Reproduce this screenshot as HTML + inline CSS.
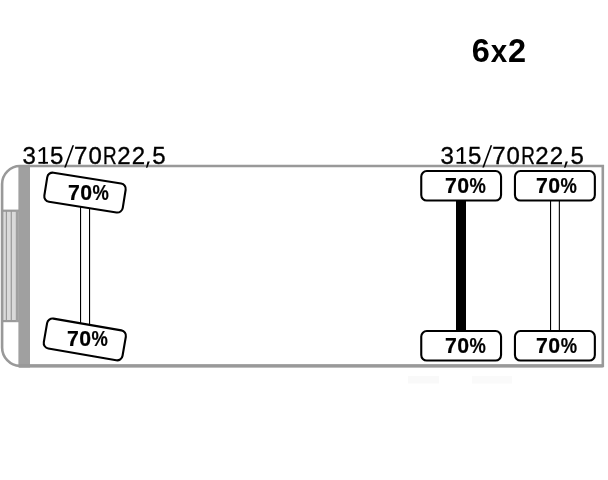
<!DOCTYPE html>
<html><head><meta charset="utf-8">
<style>
html,body{margin:0;padding:0;background:#fff;}
body{width:608px;height:480px;overflow:hidden;position:relative;}
svg{position:absolute;left:0;top:0;will-change:transform;}
text{font-family:"Liberation Sans",sans-serif;}
.lbl text{stroke:#000;stroke-width:0.35px;}
.p70 text{stroke:#000;stroke-width:0.2px;}
</style></head>
<body>
<svg width="608" height="480" viewBox="0 0 608 480">
  

  <!-- title -->
  <g font-size="32.5" font-weight="bold" fill="#000">
    <text x="471.7" y="61.5">6</text>
    <text transform="translate(491 61.6) scale(0.91 0.95)" x="-0.22">x</text>
    <text x="507.97" y="61.5">2</text>
  </g>

  <!-- front: grille + bar -->
  <rect x="3" y="210" width="14" height="112" fill="#dadada"/>
  <rect x="5.8" y="210" width="1.2" height="112" fill="#9a9a9a"/>
  <rect x="10.7" y="210" width="1.2" height="112" fill="#9a9a9a"/>
  <rect x="3" y="209.6" width="16" height="2.2" fill="#9a9a9a"/>
  <rect x="3" y="320" width="16" height="2.2" fill="#9a9a9a"/>
  <rect x="15.8" y="210" width="3" height="112" fill="#a0a0a0"/>
  <rect x="18.4" y="165" width="11.6" height="202.5" fill="#a0a0a0"/>

  <!-- body outline -->
  <path d="M20,166.05 H602.8 V365.9 H20 A18.5 18.5 0 0 1 2.1 347 V184 A18 18 0 0 1 20 166.05 Z" fill="none" stroke="#999" stroke-width="2.6"/>
  <line x1="19" y1="365.9" x2="602.8" y2="365.9" stroke="#999" stroke-width="3.3"/>

  <!-- tire size labels -->
  <g class="lbl" fill="#000">
      <text y="163.6" font-size="24" x="22.39">3</text>
      <rect x="42.9" y="147.2" width="2.3" height="16.4"/>
      <rect x="38.4" y="161.9" width="9.6" height="1.8"/>
      <path d="M38.3,150.4 L43.2,146.9 L44.2,148.4 L39.3,151.9 Z"/>
      <text y="163.6" font-size="24" x="49.94">5</text>
      <path d="M64.2,167.6 L65.9,167.6 L74.1,145.3 L72.4,145.3 Z"/>
      <text y="163.6" font-size="24" x="74.07 88.46">70</text>
      <text font-size="24" transform="translate(104.6 163.6) scale(0.786 1)" x="-1.97">R</text>
      <text y="163.6" font-size="24" x="117.19 131.69">22</text>
      <path d="M147.5,161.4 L149.8,161.4 L147.3,167.7 L146.0,167.7 Z"/>
      <text y="163.6" font-size="24" x="152.34">5</text>
    </g>
  <g class="lbl" fill="#000" transform="translate(418.1 0)">
      <text y="163.6" font-size="24" x="22.39">3</text>
      <rect x="42.9" y="147.2" width="2.3" height="16.4"/>
      <rect x="38.4" y="161.9" width="9.6" height="1.8"/>
      <path d="M38.3,150.4 L43.2,146.9 L44.2,148.4 L39.3,151.9 Z"/>
      <text y="163.6" font-size="24" x="49.94">5</text>
      <path d="M64.2,167.6 L65.9,167.6 L74.1,145.3 L72.4,145.3 Z"/>
      <text y="163.6" font-size="24" x="74.07 88.46">70</text>
      <text font-size="24" transform="translate(104.6 163.6) scale(0.786 1)" x="-1.97">R</text>
      <text y="163.6" font-size="24" x="117.19 131.69">22</text>
      <path d="M147.5,161.4 L149.8,161.4 L147.3,167.7 L146.0,167.7 Z"/>
      <text y="163.6" font-size="24" x="152.34">5</text>
    </g>

  <!-- faint ghost marks -->
  <rect x="408" y="376" width="31" height="7.5" fill="#f9f9f9"/>
  <rect x="472" y="376" width="40" height="7.5" fill="#fafafa"/>

  <!-- left axle -->
  <rect x="80" y="205" width="1.1" height="122" fill="#000"/>
  <rect x="89" y="205" width="1.1" height="122" fill="#000"/>
  <g transform="rotate(9 85 192.6)">
    <rect x="45.3" y="177.9" width="79.4" height="29.4" rx="5.5" fill="#fff" stroke="#000" stroke-width="2.1"/>
  </g>
  <g transform="rotate(9.8 84.9 339)">
    <rect x="44.95" y="324.3" width="79.9" height="30.3" rx="5.5" fill="#fff" stroke="#000" stroke-width="2.1"/>
  </g>
  <g class="p70" font-weight="bold" font-size="21.3" fill="#000" transform="translate(68.9 199.6)">
      <text x="-0.915" y="0">7</text>
      <text x="11.36" y="0">0</text>
      <text transform="translate(24.1 0) scale(0.863 1)" x="-0.53" y="0">%</text>
    </g>
  <g class="p70" font-weight="bold" font-size="21.3" fill="#000" transform="translate(67.9 345.6)">
      <text x="-0.915" y="0">7</text>
      <text x="11.36" y="0">0</text>
      <text transform="translate(24.1 0) scale(0.863 1)" x="-0.53" y="0">%</text>
    </g>

  <!-- right axle 1 -->
  <rect x="456" y="200" width="10" height="131" fill="#000"/>
  <rect x="421.25" y="171.05" width="79.8" height="29.5" rx="5.5" fill="#fff" stroke="#000" stroke-width="2.1"/>
  <rect x="421.25" y="331.05" width="79.8" height="29.5" rx="5.5" fill="#fff" stroke="#000" stroke-width="2.1"/>
  <g class="p70" font-weight="bold" font-size="21.3" fill="#000" transform="translate(445.9 192.6)">
      <text x="-0.915" y="0">7</text>
      <text x="11.36" y="0">0</text>
      <text transform="translate(24.1 0) scale(0.863 1)" x="-0.53" y="0">%</text>
    </g>
  <g class="p70" font-weight="bold" font-size="21.3" fill="#000" transform="translate(445.9 352.6)">
      <text x="-0.915" y="0">7</text>
      <text x="11.36" y="0">0</text>
      <text transform="translate(24.1 0) scale(0.863 1)" x="-0.53" y="0">%</text>
    </g>

  <!-- right axle 2 -->
  <rect x="550" y="200" width="1.1" height="131" fill="#000"/>
  <rect x="558.8" y="200" width="1.1" height="131" fill="#000"/>
  <rect x="514.95" y="171.05" width="79.9" height="29.5" rx="5.5" fill="#fff" stroke="#000" stroke-width="2.1"/>
  <rect x="514.95" y="331.05" width="79.9" height="29.5" rx="5.5" fill="#fff" stroke="#000" stroke-width="2.1"/>
  <g class="p70" font-weight="bold" font-size="21.3" fill="#000" transform="translate(536.8 192.6)">
      <text x="-0.915" y="0">7</text>
      <text x="11.36" y="0">0</text>
      <text transform="translate(24.1 0) scale(0.863 1)" x="-0.53" y="0">%</text>
    </g>
  <g class="p70" font-weight="bold" font-size="21.3" fill="#000" transform="translate(537 352.6)">
      <text x="-0.915" y="0">7</text>
      <text x="11.36" y="0">0</text>
      <text transform="translate(24.1 0) scale(0.863 1)" x="-0.53" y="0">%</text>
    </g>
</svg>
</body></html>
